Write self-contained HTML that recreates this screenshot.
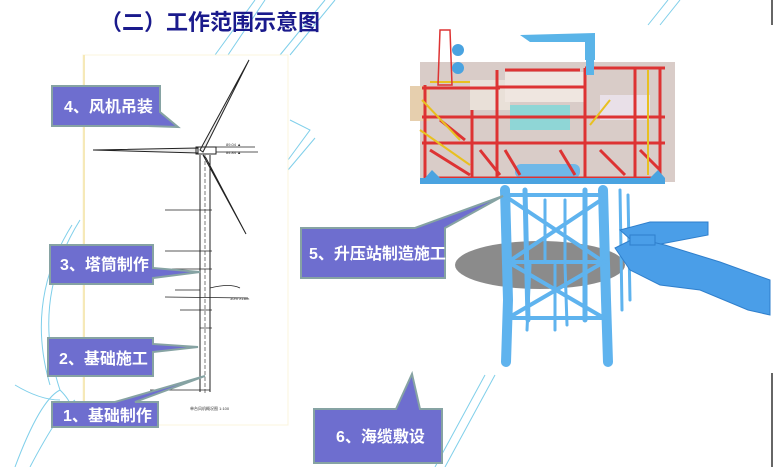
<!DOCTYPE html>
<html><head><meta charset="utf-8"><style>
html,body{margin:0;padding:0;background:#fff;}
svg{display:block;}
text{font-family:"Liberation Sans","Noto Sans CJK SC",sans-serif;font-weight:bold;}
</style></head><body>
<svg width="780" height="467" viewBox="0 0 780 467" xmlns="http://www.w3.org/2000/svg">
<rect width="780" height="467" fill="#fff"/>
<g fill="none" stroke="#7fcfea" stroke-width="1">
<path d="M215 55 L255 0"/><path d="M228 55 L265 0"/><path d="M280 55 L325 0"/><path d="M290 55 L335 0"/>
<path d="M288 160 L310 130 L290 120"/><path d="M288 170 L315 138"/>
<path d="M80 220 Q30 300 60 390 Q80 410 62 415"/><path d="M72 225 Q25 300 50 385"/>
<path d="M15 467 Q40 400 60 390"/><path d="M30 467 Q60 410 75 400"/>
<path d="M15 385 Q40 400 60 400"/>
<path d="M435 467 L485 375"/><path d="M445 467 L495 375"/>
<path d="M648 25 L668 0"/><path d="M660 25 L680 0"/>
</g>
<line x1="772" y1="0" x2="772" y2="25" stroke="#333" stroke-width="1.5"/>
<line x1="772" y1="373" x2="772" y2="467" stroke="#333" stroke-width="1.5"/>
<text x="210" y="30" font-size="22" fill="#1a1a8c" text-anchor="middle">（二）工作范围示意图</text>
<rect x="83" y="55" width="205" height="370" fill="#fff" stroke="#fbf4dc" stroke-width="1"/>
<line x1="84" y1="55" x2="84" y2="425" stroke="#f6e9b8" stroke-width="2"/>
<g stroke="#222" fill="none">
<path d="M200 150 L249 60 L203 152 Z" stroke-width="1" fill="#eee"/>
<path d="M198 148 L93 150 L198 153 Z" stroke-width="1" fill="#eee"/>
<path d="M203 155 L246 234 L206 158 Z" stroke-width="1" fill="#eee"/>
<rect x="196" y="147" width="20" height="7" stroke-width="1"/>
<line x1="200" y1="155" x2="200" y2="392" stroke-width="1"/>
<line x1="210" y1="155" x2="210" y2="392" stroke-width="1"/>
<line x1="205" y1="155" x2="205" y2="395" stroke-width="0.6" stroke-dasharray="4 2"/>
<g stroke-width="0.7">
<line x1="165" y1="210" x2="212" y2="210"/><line x1="165" y1="251" x2="212" y2="251"/>
<line x1="172" y1="269" x2="212" y2="269"/><line x1="175" y1="290" x2="200" y2="290"/>
<line x1="165" y1="297" x2="248" y2="298"/><line x1="180" y1="310" x2="212" y2="310"/>
<line x1="200" y1="328" x2="212" y2="328"/><line x1="150" y1="390" x2="210" y2="390"/>
<line x1="216" y1="147" x2="255" y2="147"/><line x1="216" y1="152" x2="258" y2="152"/>
<path d="M210 288 Q230 283 240 288"/>
</g>
</g>
<g font-size="4" fill="#333">
<text x="226" y="146" style="font-weight:normal">89.04 ▲</text><text x="226" y="154" style="font-weight:normal">84.84 ▲</text>
<text x="230" y="300" style="font-weight:normal">30m X18m</text>
<text x="190" y="410" style="font-weight:normal">单台风机概况图  1:100</text>
</g>
<!-- topside -->
<g>
<rect x="420" y="62" width="255" height="120" fill="#d9ccc8"/>
<rect x="410" y="86" width="20" height="35" fill="#e6cfae"/>
<rect x="470" y="80" width="40" height="30" fill="#e9e0d8"/>
<rect x="505" y="72" width="80" height="30" fill="#efe6e0"/>
<rect x="510" y="105" width="60" height="25" fill="#8fd6d6"/>
<rect x="600" y="95" width="50" height="25" fill="#e9e0e8"/>
<rect x="515" y="164" width="65" height="14" rx="6" fill="#6fb8e8"/>
<g stroke="#d33" stroke-width="3" fill="none">
<line x1="422" y1="88" x2="500" y2="88"/><line x1="497" y1="87" x2="585" y2="87"/>
<line x1="422" y1="117" x2="665" y2="117"/><line x1="422" y1="143" x2="665" y2="143"/>
<line x1="430" y1="178" x2="660" y2="178"/><line x1="585" y1="68" x2="665" y2="68"/>
<line x1="425" y1="85" x2="425" y2="180"/><line x1="472" y1="110" x2="472" y2="180"/>
<line x1="497" y1="70" x2="497" y2="180"/><line x1="585" y1="68" x2="585" y2="180"/>
<line x1="635" y1="68" x2="635" y2="180"/><line x1="660" y1="68" x2="660" y2="180"/>
<line x1="505" y1="70" x2="580" y2="70"/>
<path d="M430 150 L470 175 M480 150 L500 175 M600 150 L625 175 M640 150 L660 170 M440 120 L465 140 M505 150 L520 175 M560 150 L575 175"/>
</g>
<g stroke="#e8c020" stroke-width="2" fill="none">
<line x1="422" y1="100" x2="460" y2="140"/><line x1="590" y1="125" x2="610" y2="100"/>
<line x1="648" y1="70" x2="648" y2="175"/><line x1="430" y1="82" x2="470" y2="82"/>
<line x1="420" y1="130" x2="470" y2="165"/>
</g>
<path d="M440 30 L450 30 L452 85 L438 85 Z" fill="none" stroke="#d33" stroke-width="1.5"/>
<circle cx="458" cy="50" r="6" fill="#4aa3e0"/><circle cx="458" cy="68" r="6" fill="#4aa3e0"/>
<path d="M520 35 L595 33 L595 60 L585 60 L585 42 L530 42 Z" fill="#5ab4e8"/>
<rect x="586" y="45" width="8" height="30" fill="#5ab4e8"/>
<rect x="420" y="178" width="245" height="6" fill="#4aa3e0"/>
<path d="M425 178 L432 170 L440 178 Z M650 178 L658 170 L665 178 Z" fill="#4aa3e0"/>
</g>
<ellipse cx="540" cy="265" rx="85" ry="24" fill="#777" opacity="0.85"/>
<!-- jacket -->
<g stroke="#5fb3ee" fill="none" stroke-linecap="round">
<path d="M505 190 L508 300 L506 362" stroke-width="10"/>
<path d="M603 190 L606 300 L608 362" stroke-width="10"/>
<path d="M525 190 L528 320" stroke-width="5"/><path d="M585 190 L585 320" stroke-width="5"/>
<g stroke-width="4">
<line x1="505" y1="195" x2="605" y2="195"/><line x1="508" y1="262" x2="606" y2="262"/>
<line x1="508" y1="318" x2="606" y2="318"/>
<line x1="508" y1="198" x2="604" y2="262"/><line x1="604" y1="198" x2="508" y2="262"/>
<line x1="508" y1="262" x2="604" y2="318"/><line x1="604" y1="262" x2="508" y2="318"/>
</g>
<g stroke-width="3"><line x1="545" y1="200" x2="545" y2="262"/><line x1="565" y1="200" x2="565" y2="262"/><line x1="555" y1="265" x2="555" y2="330"/><line x1="565" y1="265" x2="567" y2="325"/><line x1="530" y1="265" x2="527" y2="330"/><line x1="620" y1="190" x2="622" y2="310"/><line x1="628" y1="195" x2="630" y2="300"/></g>
</g>
<g fill="#4a9ee8" stroke="#2f7fcc" stroke-width="1">
<path d="M620 230 L650 222 L708 222 L708 235 L640 248 Z"/>
<path d="M615 248 L635 238 L665 245 L720 262 L770 280 L770 315 L748 310 L700 290 L660 285 L630 270 Z"/>
<rect x="630" y="235" width="25" height="10"/>
</g>
<g fill="#6e6ecf" stroke="#86a3a3" stroke-width="2">
<path d="M52 86 L160 86 L160 112 L178 127 L148 126 L52 126 Z"/>
<path d="M50 245 L153 245 L153 268 L200 272 L153 278 L153 284 L50 284 Z"/>
<path d="M48 338 L153 338 L153 344 L198 347 L153 352 L153 376 L48 376 Z"/>
<path d="M52 402 L115 402 L205 376 L135 402 L158 402 L158 427 L52 427 Z"/>
<path d="M301 228 L415 228 L503 196 L445 228 L445 278 L301 278 Z"/>
<path d="M314 409 L396 409 L412 374 L420 409 L442 409 L442 463 L314 463 Z"/>
</g>
<g fill="#fff" font-size="16">
<text x="64" y="112">4、风机吊装</text>
<text x="60" y="270">3、塔筒制作</text>
<text x="59" y="364">2、基础施工</text>
<text x="63" y="421">1、基础制作</text>
<text x="309" y="259">5、升压站制造施工</text>
<text x="336" y="442">6、海缆敷设</text>
</g>
</svg>
</body></html>
